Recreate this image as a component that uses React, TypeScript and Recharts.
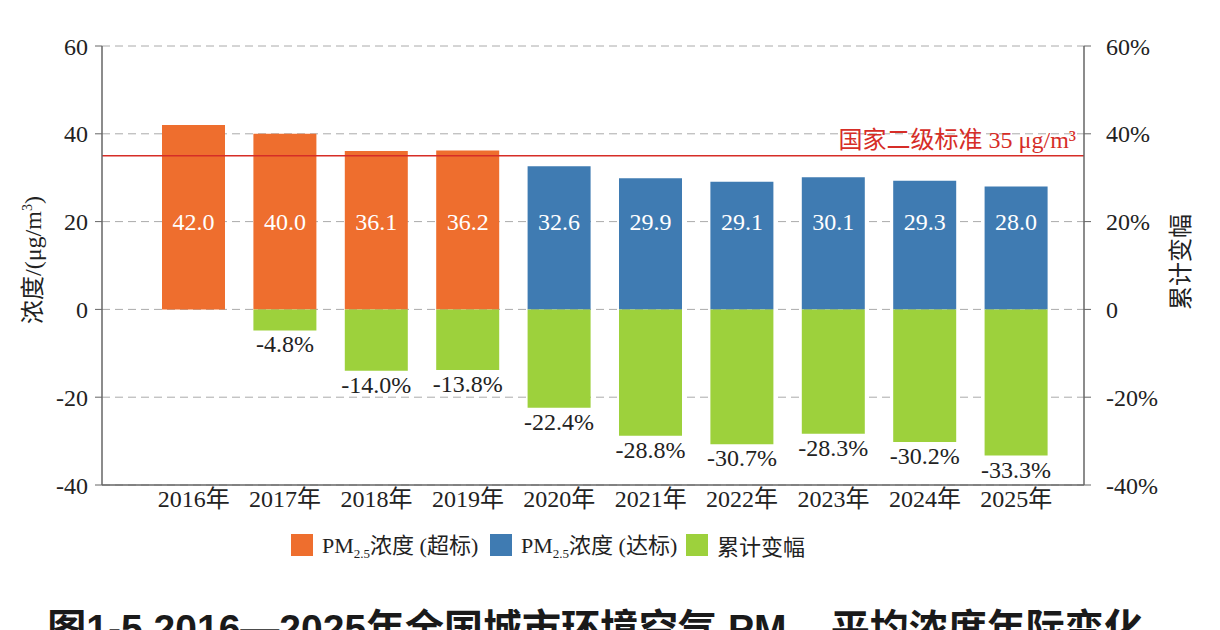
import React from 'react';
import {
  BarChart, Bar, XAxis, YAxis, CartesianGrid, ReferenceLine, LabelList,
} from 'recharts';

const YEARS = ['2016年', '2017年', '2018年', '2019年', '2020年', '2021年', '2022年', '2023年', '2024年', '2025年'];
const OVER = [42.0, 40.0, 36.1, 36.2, null, null, null, null, null, null];
const MEET = [null, null, null, null, 32.6, 29.9, 29.1, 30.1, 29.3, 28.0];
const CHANGE = [null, -4.8, -14.0, -13.8, -22.4, -28.8, -30.7, -28.3, -30.2, -33.3];
const LEFT_TICKS = [-40, -20, 0, 20, 40, 60];
const RIGHT_TICKS = [-40, -20, 0, 20, 40, 60];
const STANDARD = 35;

const ORANGE = '#ee6e2e';
const BLUE = '#3f7bb2';
const GREEN = '#9dd13c';
const RED = '#d62d27';
const SERIF = '"Liberation Serif", "Noto Sans CJK SC", serif';

const data = YEARS.map((year, i) => ({
  year,
  over: OVER[i],
  meet: MEET[i],
  change: CHANGE[i],
}));

// label sits at the height of value 20 inside the bar
const InsideLabel = (props: any) => {
  const { x, y, width, height, value } = props;
  if (value == null) return null;
  const ly = y + height - (height * 20) / value;
  return (
    <text x={x + width / 2} y={ly + 8} textAnchor="middle" fill="#fff"
      fontSize={24} fontFamily={SERIF}>
      {value.toFixed(1)}
    </text>
  );
};

const BelowLabel = (props: any) => {
  const { x, y, width, height, value } = props;
  if (value == null) return null;
  const bottom = Math.max(y, y + height);
  return (
    <text x={x + width / 2} y={bottom + 22} textAnchor="middle" fill="#222"
      fontSize={24} fontFamily={SERIF}>
      {value.toFixed(1)}%
    </text>
  );
};

const StdLabel = (props: any) => {
  const { viewBox } = props;
  return (
    <text x={viewBox.x + viewBox.width - 8} y={viewBox.y - 8} textAnchor="end"
      fill={RED} fontSize={24} fontFamily={SERIF}>
      国家二级标准 35 μg/m³
    </text>
  );
};

const legendItems = [
  { color: ORANGE, tag: ' (超标)', pm: true, left: 291 },
  { color: BLUE, tag: ' (达标)', pm: true, left: 490 },
  { color: GREEN, tag: '累计变幅', pm: false, left: 686 },
];

export default function App() {
  return (
    <div style={{ position: 'absolute', left: 0, top: 0, width: 1220, height: 630, background: '#fff', overflow: 'hidden' }}>
      <BarChart
        width={1220}
        height={520}
        data={data}
        stackOffset="sign"
        margin={{ top: 46, right: 0, bottom: 5, left: 0 }}
      >
        <CartesianGrid vertical={false} stroke="#aaa" strokeDasharray="8 5" />
        <XAxis
          dataKey="year"
          padding={{ left: 46, right: 22 }}
          tickLine={false}
          tickSize={0}
          tickMargin={5}
          axisLine={{ stroke: '#666', strokeWidth: 1.5 }}
          tick={{ fill: '#222', fontSize: 24, fontFamily: SERIF }}
          interval={0}
          height={30}
        />
        <YAxis
          domain={[-40, 60]}
          ticks={LEFT_TICKS}
          width={102}
          tickSize={7}
          tickMargin={7}
          axisLine={{ stroke: '#666', strokeWidth: 1.5 }}
          tickLine={{ stroke: '#666' }}
          tick={{ fill: '#222', fontSize: 24, fontFamily: SERIF }}
          allowDataOverflow
        />
        <YAxis
          yAxisId="right"
          orientation="right"
          domain={[-40, 60]}
          ticks={RIGHT_TICKS}
          width={136}
          tickSize={7}
          tickMargin={15}
          axisLine={{ stroke: '#666', strokeWidth: 1.5 }}
          tickLine={{ stroke: '#666' }}
          tick={{ fill: '#222', fontSize: 24, fontFamily: SERIF, textAnchor: 'start' }}
          tickFormatter={(v: number) => (v === 0 ? '0' : `${v}%`)}
          allowDataOverflow
        />
        <Bar dataKey="over" stackId="s" fill={ORANGE} barSize={63} isAnimationActive={false}>
          <LabelList dataKey="over" content={InsideLabel} />
        </Bar>
        <Bar dataKey="meet" stackId="s" fill={BLUE} barSize={63} isAnimationActive={false}>
          <LabelList dataKey="meet" content={InsideLabel} />
        </Bar>
        <Bar dataKey="change" stackId="s" fill={GREEN} barSize={63} isAnimationActive={false}>
          <LabelList dataKey="change" content={BelowLabel} />
        </Bar>
        <ReferenceLine y={STANDARD} stroke={RED} strokeWidth={1.5} label={<StdLabel />} />
      </BarChart>

      <div style={{
        position: 'absolute', left: 30, top: 260, transform: 'translate(-50%, -50%) rotate(-90deg)',
        fontSize: 24, fontFamily: SERIF, color: '#222', whiteSpace: 'nowrap',
      }}>
        浓度/(μg/m<sup style={{ fontSize: 14 }}>3</sup>)
      </div>
      <div style={{
        position: 'absolute', left: 1178, top: 262, transform: 'translate(-50%, -50%) rotate(-90deg)',
        fontSize: 24, fontFamily: SERIF, color: '#222', whiteSpace: 'nowrap',
      }}>
        累计变幅
      </div>

      {legendItems.map((it) => (
        <div key={it.tag} style={{
          position: 'absolute', left: it.left, top: 531, height: 28, display: 'flex', alignItems: 'center',
          fontSize: 22, fontFamily: SERIF, color: '#222', whiteSpace: 'nowrap',
        }}>
          <span style={{ display: 'inline-block', width: 22, height: 22, background: it.color, marginRight: 9 }} />
          {it.pm ? (
            <span>PM<sub style={{ fontSize: 13 }}>2.5</sub>浓度{it.tag}</span>
          ) : (
            <span>{it.tag}</span>
          )}
        </div>
      ))}

      <div style={{
        position: 'absolute', left: 0, top: 597, width: 1190, textAlign: 'center',
        fontSize: 39, fontWeight: 700, fontFamily: '"Liberation Sans", "Noto Sans CJK SC", sans-serif',
        color: '#1a1a1a', whiteSpace: 'nowrap',
      }}>
        图1-5 2016—2025年全国城市环境空气 PM<sub style={{ fontSize: 24 }}>2.5</sub> 平均浓度年际变化
      </div>
    </div>
  );
}
